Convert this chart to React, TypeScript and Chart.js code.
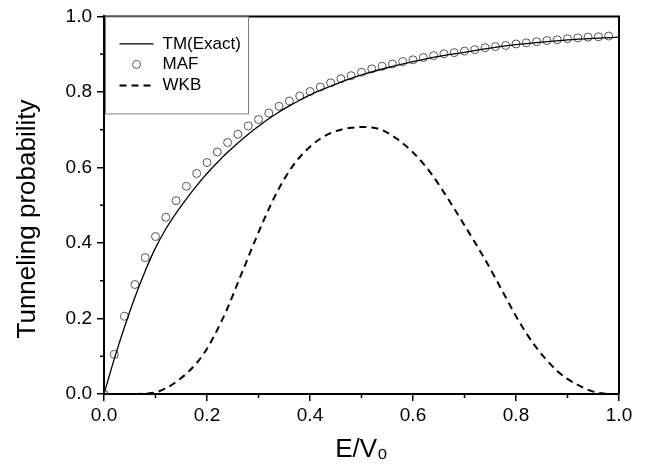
import React, { useEffect, useRef } from "react";
import { Chart, registerables } from "chart.js";

Chart.register(...registerables);

const mafE = [0, 0.02, 0.04, 0.06, 0.08, 0.1, 0.12, 0.14, 0.16, 0.18, 0.2, 0.22, 0.24, 0.26, 0.28, 0.3, 0.32, 0.34, 0.36, 0.38, 0.4, 0.42, 0.44, 0.46, 0.48, 0.5, 0.52, 0.54, 0.56, 0.58, 0.6, 0.62, 0.64, 0.66, 0.68, 0.7, 0.72, 0.74, 0.76, 0.78, 0.8, 0.82, 0.84, 0.86, 0.88, 0.9, 0.92, 0.94, 0.96, 0.98];
const mafT = [0, 0.105, 0.206, 0.29, 0.361, 0.417, 0.468, 0.512, 0.55, 0.584, 0.613, 0.641, 0.666, 0.688, 0.71, 0.727, 0.744, 0.762, 0.776, 0.789, 0.801, 0.813, 0.824, 0.835, 0.843, 0.852, 0.861, 0.868, 0.874, 0.88, 0.885, 0.891, 0.896, 0.901, 0.904, 0.908, 0.912, 0.917, 0.92, 0.923, 0.927, 0.93, 0.933, 0.936, 0.938, 0.941, 0.943, 0.945, 0.946, 0.948];

const tmE = [0, 0.01, 0.02, 0.04, 0.06, 0.08, 0.1, 0.12, 0.14, 0.16, 0.18, 0.2, 0.22, 0.24, 0.26, 0.28, 0.3, 0.32, 0.34, 0.36, 0.38, 0.4, 0.42, 0.44, 0.46, 0.48, 0.5, 0.55, 0.6, 0.65, 0.7, 0.75, 0.8, 0.85, 0.9, 0.95, 1.0];
const tmT = [0, 0.047, 0.093, 0.178, 0.256, 0.326, 0.387, 0.437, 0.479, 0.517, 0.552, 0.584, 0.613, 0.64, 0.665, 0.688, 0.709, 0.729, 0.747, 0.763, 0.778, 0.792, 0.804, 0.815, 0.826, 0.836, 0.845, 0.864, 0.88, 0.894, 0.905, 0.916, 0.925, 0.932, 0.938, 0.942, 0.945];

const wkbE = [0.06, 0.08, 0.1, 0.12, 0.14, 0.16, 0.18, 0.2, 0.22, 0.24, 0.26, 0.28, 0.3, 0.32, 0.34, 0.36, 0.38, 0.4, 0.42, 0.44, 0.46, 0.48, 0.5, 0.52, 0.54, 0.56, 0.58, 0.6, 0.62, 0.64, 0.66, 0.68, 0.7, 0.72, 0.74, 0.76, 0.78, 0.8, 0.82, 0.84, 0.86, 0.88, 0.9, 0.92, 0.94, 0.96, 0.98];
const wkbT = [0, 0.001, 0.004, 0.015, 0.032, 0.054, 0.082, 0.12, 0.17, 0.228, 0.295, 0.362, 0.428, 0.49, 0.545, 0.591, 0.627, 0.655, 0.676, 0.691, 0.7, 0.705, 0.707, 0.706, 0.699, 0.684, 0.664, 0.64, 0.61, 0.575, 0.534, 0.491, 0.447, 0.402, 0.356, 0.307, 0.256, 0.206, 0.161, 0.122, 0.089, 0.061, 0.04, 0.024, 0.011, 0.003, 0.0];

const minorTicks = [0.1, 0.3, 0.5, 0.7, 0.9];
const xTitle = "E/V\u2080";
const yTitle = "Tunneling probability";
const seriesLabels = ["TM(Exact)", "MAF", "WKB"];

const FONT = "'Liberation Sans', Arial, sans-serif";

const toPoints = (xs: number[], ys: number[]) => xs.map((x, i) => ({ x, y: ys[i] }));

const framePlugin = {
  id: "frameAndMinor",
  afterDraw(chart: any) {
    const { ctx, chartArea, scales } = chart;
    ctx.save();
    ctx.strokeStyle = "#000";
    ctx.lineWidth = 1.5;
    minorTicks.forEach((v) => {
      const x = scales.x.getPixelForValue(v);
      ctx.beginPath();
      ctx.moveTo(x, chartArea.bottom);
      ctx.lineTo(x, chartArea.bottom + 4);
      ctx.stroke();
      const y = scales.y.getPixelForValue(v);
      ctx.beginPath();
      ctx.moveTo(chartArea.left, y);
      ctx.lineTo(chartArea.left - 4, y);
      ctx.stroke();
    });
    ctx.lineWidth = 2;
    ctx.beginPath();
    ctx.moveTo(chartArea.left, chartArea.top);
    ctx.lineTo(chartArea.right, chartArea.top);
    ctx.lineTo(chartArea.right, chartArea.bottom);
    ctx.stroke();

    ctx.fillStyle = "#000";
    ctx.font = `26px ${FONT}`;
    ctx.textAlign = "center";
    ctx.textBaseline = "middle";
    ctx.translate(28, 219);
    ctx.rotate(-Math.PI / 2);
    ctx.fillText(yTitle, 0, 0);
    ctx.restore();
  },
};

const legendPlugin = {
  id: "boxLegend",
  afterDraw(chart: any) {
    const { ctx, chartArea } = chart;
    const x0 = chartArea.left + 1.5;
    const y0 = chartArea.top + 0.5;
    ctx.save();
    ctx.strokeStyle = "#808080";
    ctx.lineWidth = 1;
    ctx.fillStyle = "#fff";
    ctx.fillRect(x0, y0, 143, 97);
    ctx.strokeRect(x0, y0, 143, 97);
    const rows = [27, 47.5, 68.5];
    chart.data.datasets.forEach((ds: any, i: number) => {
      const y = y0 + rows[i];
      const sx = x0 + 14;
      const ex = x0 + 48;
      if (ds.showLine === false) {
        ctx.beginPath();
        ctx.strokeStyle = ds.pointBorderColor;
        ctx.lineWidth = 1;
        ctx.arc((sx + ex) / 2, y, 4, 0, Math.PI * 2);
        ctx.stroke();
      } else {
        ctx.beginPath();
        ctx.strokeStyle = ds.borderColor;
        ctx.lineWidth = ds.borderWidth;
        ctx.setLineDash(ds.borderDash || []);
        ctx.moveTo(sx, y);
        ctx.lineTo(ex, y);
        ctx.stroke();
        ctx.setLineDash([]);
      }
      ctx.fillStyle = "#000";
      ctx.font = `17px ${FONT}`;
      ctx.textAlign = "left";
      ctx.textBaseline = "middle";
      ctx.fillText(ds.label, x0 + 57, y);
    });
    ctx.restore();
  },
};

export default function App() {
  const ref = useRef<HTMLCanvasElement | null>(null);
  useEffect(() => {
    document.body.style.margin = "0";
    if (!ref.current) return;
    Chart.defaults.font.family = FONT;
    Chart.defaults.color = "#000";
    const chart = new Chart(ref.current, {
      type: "line",
      data: {
        datasets: [
          {
            label: seriesLabels[0],
            data: toPoints(tmE, tmT),
            borderColor: "#000",
            borderWidth: 1.3,
            pointRadius: 0,
            cubicInterpolationMode: "monotone",
            fill: false,
          },
          {
            label: seriesLabels[1],
            data: toPoints(mafE, mafT),
            showLine: false,
            pointRadius: 4,
            pointBorderWidth: 1,
            pointBorderColor: "#555",
            pointBackgroundColor: "rgba(255,255,255,0)",
            borderColor: "#555",
          },
          {
            label: seriesLabels[2],
            data: toPoints(wkbE, wkbT),
            borderColor: "#000",
            borderWidth: 2,
            borderDash: [7, 5],
            pointRadius: 0,
            cubicInterpolationMode: "monotone",
            fill: false,
          },
        ],
      },
      options: {
        animation: false,
        responsive: true,
        maintainAspectRatio: false,
        layout: { padding: { top: 15, right: 26, left: 0, bottom: 0 } },
        plugins: { legend: { display: false }, tooltip: { enabled: false } },
        scales: {
          x: {
            type: "linear",
            min: 0,
            max: 1,
            afterFit: (s: any) => {
              s.height = 73;
            },
            ticks: {
              stepSize: 0.2,
              callback: (v: any) => Number(v).toFixed(1),
              font: { size: 19, family: FONT },
              color: "#000",
              padding: 3,
              maxRotation: 0,
            },
            grid: { drawOnChartArea: false, drawTicks: true, tickLength: 7, color: "#000", lineWidth: 1.5 },
            border: { display: true, color: "#000", width: 2 },
            title: {
              display: true,
              text: xTitle,
              font: { size: 26, family: FONT },
              color: "#000",
              padding: { top: 0, bottom: 2 },
            },
          },
          y: {
            type: "linear",
            min: 0,
            max: 1,
            afterFit: (s: any) => {
              s.width = 104;
            },
            ticks: {
              stepSize: 0.2,
              callback: (v: any) => Number(v).toFixed(1),
              font: { size: 19, family: FONT },
              color: "#000",
              padding: 5,
            },
            grid: { drawOnChartArea: false, drawTicks: true, tickLength: 7, color: "#000", lineWidth: 1.5 },
            border: { display: true, color: "#000", width: 2 },
          },
        },
      },
      plugins: [framePlugin, legendPlugin],
    });
    return () => chart.destroy();
  }, []);
  return (
    <div style={{ width: 645, height: 467, position: "relative", background: "#fff" }}>
      <canvas ref={ref} />
    </div>
  );
}
